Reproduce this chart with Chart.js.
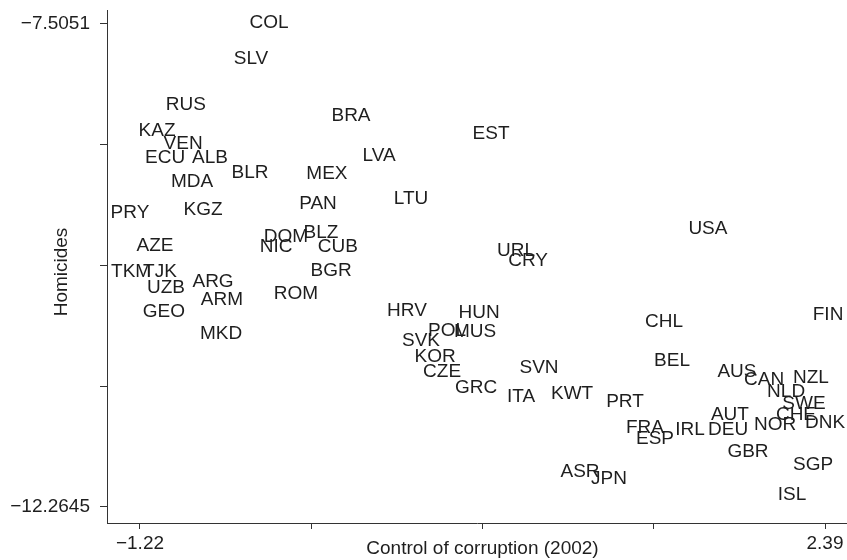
<!DOCTYPE html>
<html>
<head>
<meta charset="utf-8">
<script src="https://cdn.jsdelivr.net/npm/chart.js@4/dist/chart.umd.min.js"></script>
<style>
  html, body { margin: 0; padding: 0; background: #fff; }
  canvas { display: block; }
</style>
</head>
<body>
<canvas id="chart" width="847" height="560"></canvas>
<script>
// Country codes, as printed on the chart
const codes = [
  "COL", "SLV", "RUS", "KAZ", "VEN", "ECU", "ALB", "BLR", "MDA", "PRY",
  "KGZ", "AZE", "TKM", "TJK", "UZB", "ARG", "ARM", "GEO", "MKD", "NIC",
  "DOM", "BLZ", "CUB", "BGR", "ROM", "BRA", "EST", "LVA", "MEX", "PAN",
  "LTU", "URL", "CRY", "HRV", "HUN", "POL", "MUS", "SVK", "KOR", "CZE",
  "GRC", "SVN", "ITA", "KWT", "PRT", "ASR", "JPN", "USA", "FIN", "CHL",
  "BEL", "AUS", "CAN", "NZL", "NLD", "SWE", "CHE", "DNK", "AUT", "NOR",
  "DEU", "IRL", "FRA", "ESP", "GBR", "SGP", "ISL"
];

// Control of corruption (2002)
const corruption = [
  -0.540, -0.635, -0.978, -1.130, -0.993, -1.088, -0.851, -0.640, -0.946, -1.273,
  -0.888, -1.141, -1.267, -1.115, -1.083, -0.835, -0.788, -1.094, -0.793, -0.503,
  -0.451, -0.266, -0.177, -0.213, -0.398, -0.108, 0.630, 0.040, -0.235, -0.282,
  0.208, 0.762, 0.825, 0.187, 0.567, 0.398, 0.546, 0.261, 0.335, 0.372,
  0.551, 0.883, 0.788, 1.057, 1.336, 1.099, 1.252, 1.773, 2.406, 1.542,
  1.584, 1.926, 2.069, 2.316, 2.185, 2.279, 2.237, 2.390, 1.889, 2.127,
  1.879, 1.679, 1.441, 1.494, 1.984, 2.327, 2.216
];

// Homicides (log scale values)
const homicides = [
  -7.497, -7.849, -8.300, -8.556, -8.683, -8.821, -8.821, -8.968, -9.057, -9.371,
  -9.332, -9.695, -9.950, -9.950, -10.107, -10.048, -10.225, -10.343, -10.559, -9.705,
  -9.606, -9.567, -9.705, -9.940, -10.166, -8.409, -8.585, -8.801, -8.978, -9.273,
  -9.224, -9.744, -9.842, -10.333, -10.353, -10.529, -10.539, -10.628, -10.785, -10.932,
  -11.089, -10.893, -11.178, -11.148, -11.227, -11.924, -11.993, -9.528, -10.372, -10.441,
  -10.824, -10.932, -11.011, -10.991, -11.128, -11.246, -11.354, -11.433, -11.354, -11.453,
  -11.502, -11.502, -11.482, -11.590, -11.718, -11.855, -12.150
];

const xTicks = [-1.22, -0.3175, 0.585, 1.4875, 2.39];
const xTickLabels = ["\u22121.22", "", "", "", "2.39"];
const yTicks = [-7.5051, -8.69495, -9.8848, -11.07465, -12.2645];
const yTickLabels = ["\u22127.5051", "", "", "", "\u221212.2645"];

const FONT = "'Liberation Sans', Arial, Helvetica, sans-serif";
const INK = "#1e1e1e";
const AXIS = "#333";

// Country codes drawn centred on each (invisible) point
const codeLabels = {
  id: "codeLabels",
  afterDatasetsDraw(chart) {
    const ctx = chart.ctx;
    const meta = chart.getDatasetMeta(0);
    ctx.save();
    ctx.font = "19px " + FONT;
    ctx.fillStyle = INK;
    ctx.textAlign = "center";
    ctx.textBaseline = "middle";
    meta.data.forEach((pt, i) => ctx.fillText(codes[i], pt.x, pt.y));
    ctx.restore();
  },
};

// Axis titles, placed like the original (x title sits between the end tick labels)
const axisTitles = {
  id: "axisTitles",
  afterDraw(chart) {
    const ctx = chart.ctx;
    const xs = chart.scales.x;
    ctx.save();
    ctx.font = "19px " + FONT;
    ctx.fillStyle = INK;
    ctx.textAlign = "center";
    ctx.textBaseline = "middle";
    ctx.fillText("Control of corruption (2002)", (xs.getPixelForValue(-1.22) + xs.getPixelForValue(2.39)) / 2, 549);
    ctx.translate(62, 272);
    ctx.rotate(-Math.PI / 2);
    ctx.fillText("Homicides", 0, 0);
    ctx.restore();
  },
};

new Chart(document.getElementById("chart"), {
  type: "scatter",
  data: {
    datasets: [{
      data: corruption.map((x, i) => ({ x, y: homicides[i] })),
      pointRadius: 0,
      pointHoverRadius: 0,
    }],
  },
  options: {
    responsive: false,
    animation: false,
    devicePixelRatio: 1,
    layout: { padding: { top: 10, right: 0, bottom: 0, left: 0 } },
    plugins: { legend: { display: false }, tooltip: { enabled: false } },
    scales: {
      x: {
        type: "linear",
        min: -1.3939,
        max: 2.5059,
        afterBuildTicks: (s) => { s.ticks = xTicks.map((v) => ({ value: v })); },
        afterFit: (s) => { s.height = 37; },
        border: { color: AXIS, width: 1 },
        grid: { drawOnChartArea: false, drawTicks: true, tickLength: 6, color: AXIS },
        ticks: {
          autoSkip: false,
          maxRotation: 0,
          padding: 3,
          color: INK,
          font: { family: FONT, size: 19 },
          callback: (v, i) => xTickLabels[i],
        },
      },
      y: {
        type: "linear",
        min: -12.4245,
        max: -7.3676,
        afterBuildTicks: (s) => { s.ticks = yTicks.map((v) => ({ value: v })); },
        // keep the top label from pushing the plot area down
        afterFit: (s) => { s.width = 107; s.paddingTop = 0; s.paddingBottom = 0; },
        border: { color: AXIS, width: 1 },
        grid: { drawOnChartArea: false, drawTicks: true, tickLength: 7, color: AXIS },
        ticks: {
          autoSkip: false,
          padding: 10,
          color: INK,
          font: { family: FONT, size: 19 },
          callback: (v, i) => yTickLabels[i],
        },
      },
    },
  },
  plugins: [codeLabels, axisTitles],
});
</script>
</body>
</html>
